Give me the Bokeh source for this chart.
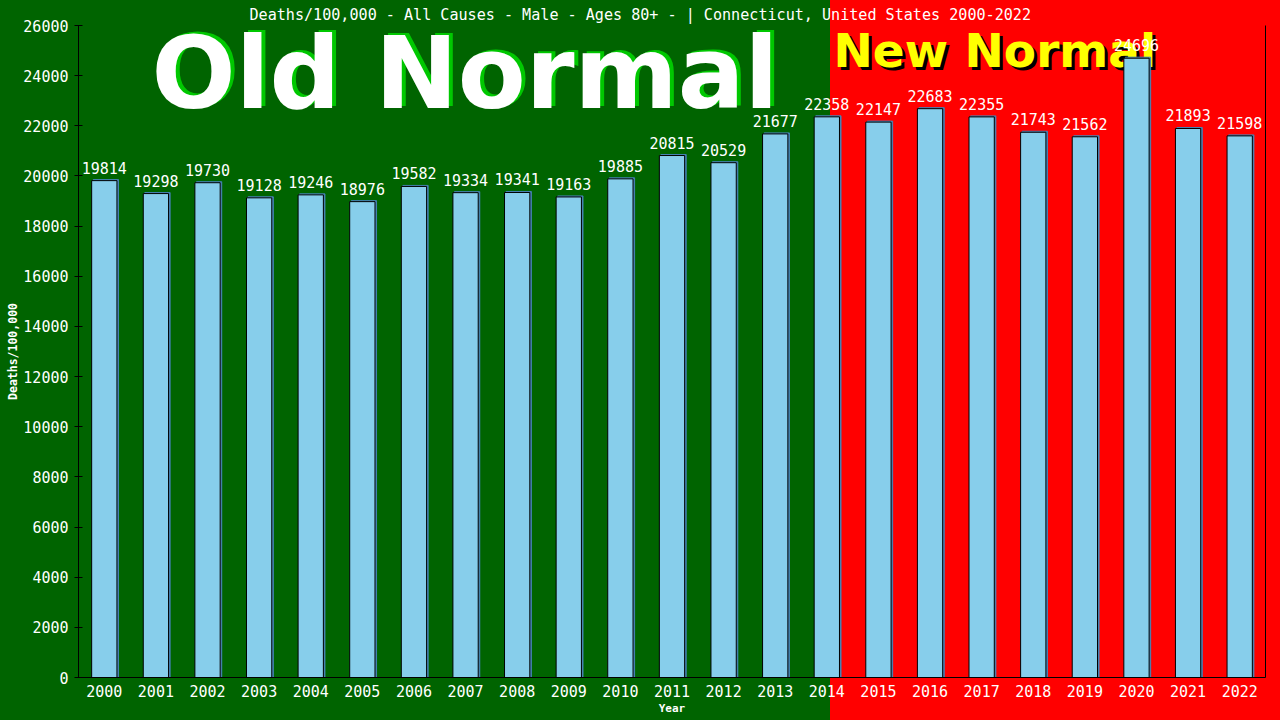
from bokeh.plotting import figure
from bokeh.models import ColumnDataSource, FactorRange, Range1d, FixedTicker, Label, LinearAxis
from bokeh.transform import dodge
from bokeh.core.properties import value
from bokeh.embed import file_html
from bokeh.resources import INLINE

years = ["2000", "2001", "2002", "2003", "2004", "2005", "2006", "2007", "2008", "2009", "2010",
         "2011", "2012", "2013", "2014", "2015", "2016", "2017", "2018", "2019", "2020", "2021", "2022"]
deaths = [19814, 19298, 19730, 19128, 19246, 18976, 19582, 19334, 19341, 19163, 19885,
          20815, 20529, 21677, 22358, 22147, 22683, 22355, 21743, 21562, 24696, 21893, 21598]
y_ticks = [0, 2000, 4000, 6000, 8000, 10000, 12000, 14000, 16000, 18000, 20000, 22000, 24000, 26000]
title_text = "Deaths/100,000 - All Causes - Male - Ages 80+ -  | Connecticut, United States 2000-2022"

MONO = "DejaVu Sans Mono"

p = figure(width=1280, height=720, x_range=FactorRange(factors=years), y_range=Range1d(0, 26000),
           output_backend="svg", toolbar_location=None,
           min_border_left=78, min_border_right=15, min_border_top=25, min_border_bottom=43)
p.background_fill_color = None
p.border_fill_color = None
p.outline_line_color = None
p.grid.visible = False

p.title.text = title_text
p.title.text_font = MONO
p.title.text_font_size = "15.1px"
p.title.text_font_style = "normal"
p.title.text_color = "white"
p.title.align = "left"
p.title.offset = 171
p.title.standoff = 3

# y axis
p.yaxis.ticker = FixedTicker(ticks=y_ticks)
p.yaxis.axis_label = "Deaths/100,000"
p.yaxis.axis_label_text_font = MONO
p.yaxis.axis_label_text_font_size = "11.5px"
p.yaxis.axis_label_text_font_style = "bold"
p.yaxis.axis_label_text_color = "white"
p.yaxis.axis_label_standoff = 0
p.yaxis.major_label_text_font = MONO
p.yaxis.major_label_text_font_size = "15px"
p.yaxis.major_label_text_color = "white"
p.yaxis.major_label_standoff = 6
p.yaxis.major_tick_in = 4
p.yaxis.major_tick_out = 4
p.yaxis.minor_tick_line_color = None
p.yaxis.axis_line_color = "black"
p.yaxis.major_tick_line_color = "black"

# x axis
p.xaxis.axis_label = "Year"
p.xaxis.axis_label_text_font = MONO
p.xaxis.axis_label_text_font_size = "11px"
p.xaxis.axis_label_text_font_style = "bold"
p.xaxis.axis_label_text_color = "white"
p.xaxis.axis_label_standoff = 2
p.xaxis.major_label_text_font = MONO
p.xaxis.major_label_text_font_size = "15px"
p.xaxis.major_label_text_color = "white"
p.xaxis.major_label_standoff = 1
p.xaxis.major_tick_line_color = None
p.xaxis.minor_tick_line_color = None
p.xaxis.axis_line_color = "black"

right_axis = LinearAxis(ticker=FixedTicker(ticks=[]), major_label_text_font_size="0px",
                        major_tick_line_color=None, minor_tick_line_color=None,
                        axis_line_color="black")
p.add_layout(right_axis, "right")

# big background captions
old_shadow = Label(x=1.414, y=24086, text="Old Normal", x_offset=4, y_offset=2,
                   text_font="DejaVu Sans", text_font_style="bold", text_font_size="99px",
                   text_color="#00c800", text_baseline="middle", level="underlay")
old_main = Label(x=1.414, y=24086, text="Old Normal",
                 text_font="DejaVu Sans", text_font_style="bold", text_font_size="99px",
                 text_color="white", text_baseline="middle", level="underlay")
new_shadow = Label(x=14.63, y=25003, text="New Normal", x_offset=3, y_offset=-3,
                   text_font="DejaVu Sans", text_font_style="bold", text_font_size="47px",
                   text_color="black", text_baseline="middle", level="underlay")
new_main = Label(x=14.63, y=25003, text="New Normal",
                 text_font="DejaVu Sans", text_font_style="bold", text_font_size="47px",
                 text_color="#ffff00", text_baseline="middle", level="underlay")
for lab in (old_shadow, old_main, new_shadow, new_main):
    p.add_layout(lab)

src = ColumnDataSource(dict(year=years, deaths=deaths, label=[str(v) for v in deaths]))

p.vbar(x=dodge("year", 0.03, range=p.x_range), top=dodge("deaths", 40), width=0.49,
       fill_color="#4682b4", line_color="#4682b4", source=src)
p.vbar(x="year", top="deaths", width=0.49, fill_color="#87ceeb", line_color="black",
       line_width=1, source=src)
p.text(x="year", y="deaths", text="label", text_align="center", text_baseline="middle",
       y_offset=-13, text_font=value(MONO), text_font_size="15px", text_color="white", source=src)

html = file_html(p, INLINE, title="Deaths/100,000 - Connecticut")
html = html.replace("</head>",
                    "<style>html,body{overflow:hidden;}"
                    "html{background:linear-gradient(to right,#006400 0px,#006400 830px,"
                    "#ff0000 830px,#ff0000 100%);min-height:100%;}</style></head>", 1)
open("out.html", "w").write(html)
